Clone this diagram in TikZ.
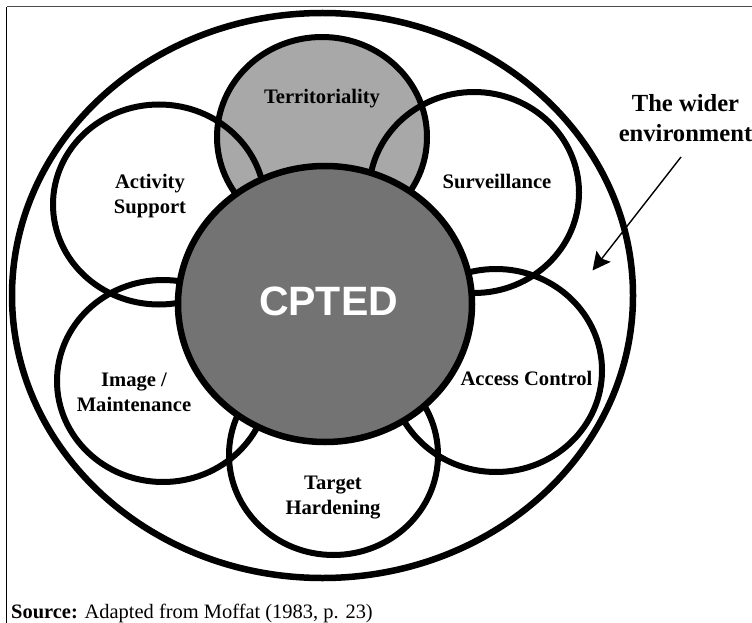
\documentclass[tikz,border=0pt]{standalone}
\usepackage{fontspec}
\setmainfont{Liberation Serif}
\setsansfont{Liberation Sans}
\usetikzlibrary{shapes.geometric,arrows.meta}
\definecolor{lightg}{gray}{0.66}
\definecolor{darkg}{gray}{0.45}
\definecolor{framec}{gray}{0.3}
\tikzset{
 x=1pt,y=-1pt,
 petal/.style={draw=black,line width=6pt,ellipse,inner sep=0pt},
 lbl/.style={font=\fontsize{20.6}{25}\selectfont\bfseries,align=center,inner sep=0pt},
 envlbl/.style={font=\fontsize{24.6}{30}\selectfont\bfseries,align=center,inner sep=0pt},
}
\begin{document}
\begin{tikzpicture}
\useasboundingbox (0,0) rectangle (752,623);
\fill[white] (0,0) rectangle (752,623);
\draw[framec,line width=1pt] (752,7) -- (6.5,7);
\draw[black,line width=1pt] (6.5,7) -- (6.5,623);
\node[petal,line width=6.5pt,minimum width=621pt,minimum height=565pt] (outer) at (322.5,295.5) {};
\node[ellipse,fill=lightg,minimum width=210pt,minimum height=200pt,inner sep=0pt] (terrfill) at (322,137) {};
\node[petal,minimum width=210pt,minimum height=200pt] (terr) at (322,137) {};
\node[petal,minimum width=210pt,minimum height=201pt] (surv) at (474,192.5) {};
\node[petal,minimum width=212pt,minimum height=200pt] (act) at (159,204.5) {};
\node[petal,minimum width=212pt,minimum height=202pt] (img) at (163,381) {};
\node[petal,minimum width=212pt,minimum height=203pt] (acc) at (496,370.5) {};
\node[petal,minimum width=209pt,minimum height=200pt] (tgt) at (333.5,455) {};
\node[petal,line width=6.5pt,fill=darkg,minimum width=294pt,minimum height=276pt] (cpted) at (325,304) {};
\node[font=\fontsize{41}{46}\selectfont\sffamily\bfseries,text=white,inner sep=0pt] (cptedt) at (328.5,301) {CPTED};
\node[lbl] (t1) at (322,99) {Territoriality};
\node[lbl] (t2) at (497,181) {Surveillance};
\node[lbl] (t3) at (150,196) {Activity\\Support};
\node[lbl] (t4) at (134,392) {Image /\\Maintenance};
\node[lbl] (t5) at (526.5,378.5) {Access Control};
\node[lbl] (t6) at (333,498) {Target\\Hardening};
\node[envlbl] (env) at (685.5,118) {The wider\\environment};
\node[font=\fontsize{20.45}{24}\selectfont,anchor=base west,inner sep=0pt] (src) at (11,618) {\textbf{Source:} Adapted from Moffat (1983, p. 23)};
\coordinate (a1) at (681,157);
\coordinate (a2) at (592.5,270.5);
\draw[line width=1.4pt,-{Stealth[length=18pt,width=18pt,inset=3pt]}] (a1) -- (a2);
\end{tikzpicture}
\end{document}
